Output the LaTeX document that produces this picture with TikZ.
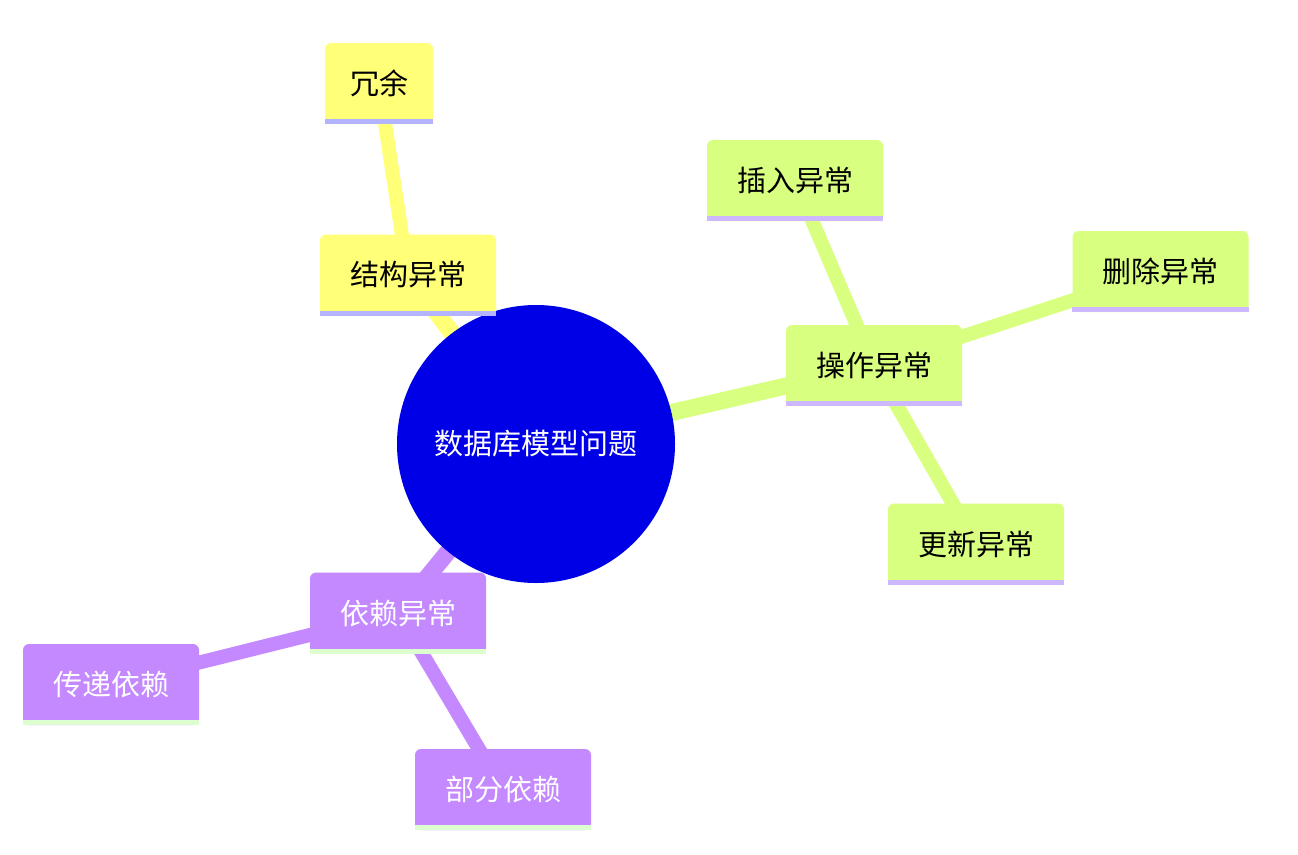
\documentclass[tikz,border=0pt]{standalone}
\usepackage{fontspec}
\setmainfont{Noto Sans CJK SC}
\pgfdeclarelayer{bg}
\pgfsetlayers{bg,main}
\definecolor{cblue}{HTML}{0000E6}
\definecolor{cyel}{HTML}{FFFF78}
\definecolor{cgrn}{HTML}{D9FF80}
\definecolor{cpur}{HTML}{C488FF}
\definecolor{byel}{HTML}{B3B3FF}
\definecolor{bgrn}{HTML}{CDB8FF}
\definecolor{bpur}{HTML}{DDFFD0}
\tikzset{
  box/.style={rounded corners=6pt,minimum width=176pt,minimum height=81pt,inner sep=0pt,font=\fontsize{29}{34}\selectfont},
  edge/.style={line width=17pt},
  subedge/.style={line width=14pt},
}
\newcommand{\mybar}[2]{\fill[#2] ([yshift=0pt]#1.south west) rectangle ([yshift=5pt]#1.south east);}
\begin{document}
\begin{tikzpicture}[x=1pt,y=-1pt]
\useasboundingbox (0,0) rectangle (1298,854);
\node[circle,fill=cblue,minimum size=278pt,inner sep=0pt,text=white,font=\fontsize{29}{34}\selectfont] (c) at (536,444) {数据库模型问题};
\node[box,fill=cyel] (s) at (408,275) {结构异常};
\node[box,fill=cyel,minimum width=108pt] (r) at (379,83.5) {冗余};
\node[box,fill=cgrn] (o) at (874,365.5) {操作异常};
\node[box,fill=cgrn] (i) at (795,180.5) {插入异常};
\node[box,fill=cgrn] (d) at (1160.5,271.5) {删除异常};
\node[box,fill=cgrn] (u) at (976,544) {更新异常};
\node[box,fill=cpur,text=white] (y) at (398,613) {依赖异常};
\node[box,fill=cpur,text=white] (t) at (111,684.5) {传递依赖};
\node[box,fill=cpur,text=white] (p) at (503,789.5) {部分依赖};
\mybar{s}{byel}\mybar{r}{byel}
\mybar{o}{bgrn}\mybar{i}{bgrn}\mybar{d}{bgrn}\mybar{u}{bgrn}
\mybar{y}{bpur}\mybar{t}{bpur}\mybar{p}{bpur}
\begin{pgfonlayer}{bg}
\draw[edge,cyel] (c.center) -- (s.center);
\draw[subedge,cyel] (s.center) -- (r.center);
\draw[edge,cgrn] (c.center) -- (o.center);
\draw[subedge,cgrn] (o.center) -- (i.center);
\draw[subedge,cgrn] (o.center) -- (d.center);
\draw[subedge,cgrn] (o.center) -- (u.center);
\draw[edge,cpur] (c.center) -- (y.center);
\draw[subedge,cpur] (y.center) -- (t.center);
\draw[subedge,cpur] (y.center) -- (p.center);
\end{pgfonlayer}
\end{tikzpicture}
\end{document}
